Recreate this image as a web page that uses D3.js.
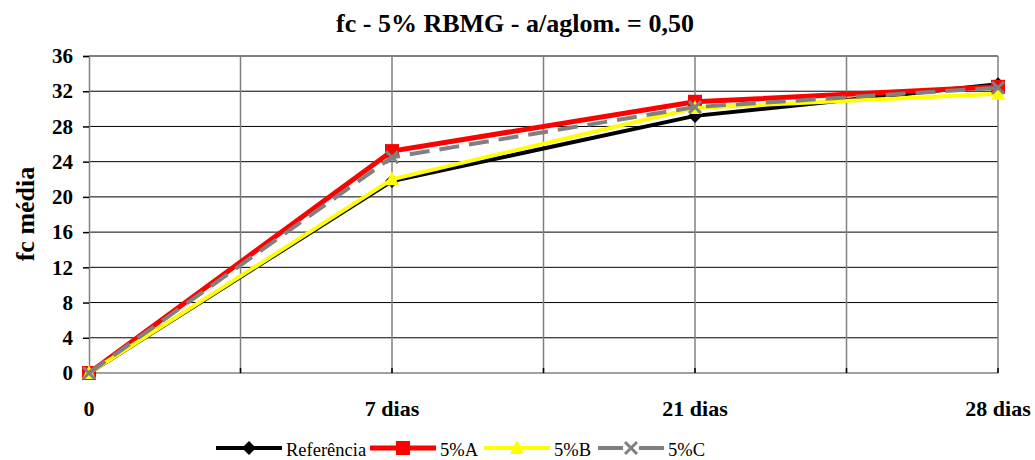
<!DOCTYPE html>
<html>
<head>
<meta charset="utf-8">
<script src="https://cdn.jsdelivr.net/npm/d3@7"></script>
<style>
  body { margin: 0; background: #fff; }
  svg { display: block; font-family: "Liberation Serif", "Times New Roman", serif; }
</style>
</head>
<body>
<div class="vis"></div>
<script>
const categories = ["0", "7 dias", "21 dias", "28 dias"];
const referencia = [0, 21.8, 29.2, 32.8];
const a5 = [0, 25.2, 30.8, 32.5];
const b5 = [0, 22.0, 30.1, 31.7];
const c5 = [0, 24.5, 30.2, 32.4];
const yTicks = [0, 4, 8, 12, 16, 20, 24, 28, 32, 36];
const title = "fc - 5% RBMG - a/aglom. = 0,50";
const yTitle = "fc média";

const series = [
  { name: "Referência", values: referencia, color: "#000000", marker: "diamond", dash: null, width: 4 },
  { name: "5%A", values: a5, color: "#ff0000", marker: "square", dash: null, width: 5 },
  { name: "5%B", values: b5, color: "#ffff00", marker: "triangle", dash: null, width: 4 },
  { name: "5%C", values: c5, color: "#808080", marker: "x", dash: "20,10", width: 4 }
];

const W = 1035, H = 460;
const pL = 89, pR = 998, pT = 56, pB = 373;

const svg = d3.select(".vis").append("svg").attr("width", W).attr("height", H);

const x = d3.scaleLinear().domain([0, categories.length - 1]).range([pL, pR]);
const y = d3.scaleLinear().domain([0, 36]).range([pB, pT]);

// title
svg.append("text")
  .attr("x", 515).attr("y", 32)
  .attr("text-anchor", "middle")
  .style("font-size", "26px").style("font-weight", "bold")
  .text(title);

// horizontal gridlines
svg.append("g").selectAll("line").data(yTicks.filter(d => d > 0)).join("line")
  .attr("x1", pL).attr("x2", pR)
  .attr("y1", d => y(d)).attr("y2", d => y(d))
  .attr("stroke", "#000").attr("stroke-width", 1);

// vertical gridlines at categories and midpoints
const vTicks = d3.range(0, categories.length - 0.9, 0.5);
svg.append("g").selectAll("line").data(vTicks.filter(d => d > 0)).join("line")
  .attr("x1", d => x(d)).attr("x2", d => x(d))
  .attr("y1", pT).attr("y2", pB)
  .attr("stroke", "#808080").attr("stroke-width", 1.5);

// y axis
const yAxis = svg.append("g").attr("transform", `translate(${pL},0)`)
  .call(d3.axisLeft(y).tickValues(yTicks).tickSize(6).tickPadding(10));
yAxis.attr("font-family", null);
yAxis.select(".domain").attr("stroke", "#808080").attr("stroke-width", 1.5);
yAxis.selectAll(".tick line").attr("stroke", "#000").attr("stroke-width", 1.5);
yAxis.selectAll(".tick text")
  .style("font-size", "21px").style("font-weight", "bold").attr("fill", "#000");

// x axis
svg.append("line")
  .attr("x1", pL).attr("x2", pR).attr("y1", pB).attr("y2", pB)
  .attr("stroke", "#808080").attr("stroke-width", 1.5);
svg.append("g").selectAll("line").data(vTicks).join("line")
  .attr("x1", d => x(d)).attr("x2", d => x(d))
  .attr("y1", pB).attr("y2", pB - 5)
  .attr("stroke", "#000").attr("stroke-width", 1.5);
svg.append("g").selectAll("text").data(categories).join("text")
  .attr("x", (d, i) => x(i)).attr("y", 416)
  .attr("text-anchor", "middle")
  .style("font-size", "22px").style("font-weight", "bold")
  .text(d => d);

// y title
svg.append("text")
  .attr("transform", `translate(34, 214) rotate(-90)`)
  .attr("text-anchor", "middle")
  .style("font-size", "26px").style("font-weight", "bold")
  .text(yTitle);

const drawMarker = (g, s, cx, cy) => {
  if (s.marker === "diamond") {
    g.append("path").attr("d", `M${cx},${cy - 7}L${cx + 7},${cy}L${cx},${cy + 7}L${cx - 7},${cy}Z`).attr("fill", s.color);
  } else if (s.marker === "square") {
    g.append("rect").attr("x", cx - 7).attr("y", cy - 7).attr("width", 14).attr("height", 14).attr("fill", s.color);
  } else if (s.marker === "triangle") {
    g.append("path").attr("d", `M${cx},${cy - 8}L${cx + 7},${cy + 6}L${cx - 7},${cy + 6}Z`).attr("fill", s.color);
  } else {
    g.append("path").attr("d", `M${cx - 6},${cy - 6}L${cx + 6},${cy + 6}M${cx + 6},${cy - 6}L${cx - 6},${cy + 6}`)
      .attr("stroke", s.color).attr("stroke-width", 3).attr("fill", "none");
  }
};

const line = d3.line().x((d, i) => x(i)).y(d => y(d));

series.forEach(s => {
  const g = svg.append("g");
  g.append("path").datum(s.values).attr("d", line)
    .attr("fill", "none").attr("stroke", s.color).attr("stroke-width", s.width)
    .attr("stroke-dasharray", s.dash);
  s.values.forEach((v, i) => drawMarker(g, s, x(i), y(v)));
});

// legend
const legendPos = [216, 370, 484, 598];
const legY = 448;
series.forEach((s, i) => {
  const g = svg.append("g");
  const lx = legendPos[i];
  g.append("line").attr("x1", lx).attr("x2", lx + 66).attr("y1", legY).attr("y2", legY)
    .attr("stroke", s.color).attr("stroke-width", s.width)
    .attr("stroke-dasharray", s.dash ? "25,16" : null);
  drawMarker(g, s, lx + 33, legY);
  g.append("text").attr("x", lx + 70).attr("y", legY + 8)
    .style("font-size", "18.5px").text(s.name);
});
</script>
</body>
</html>
